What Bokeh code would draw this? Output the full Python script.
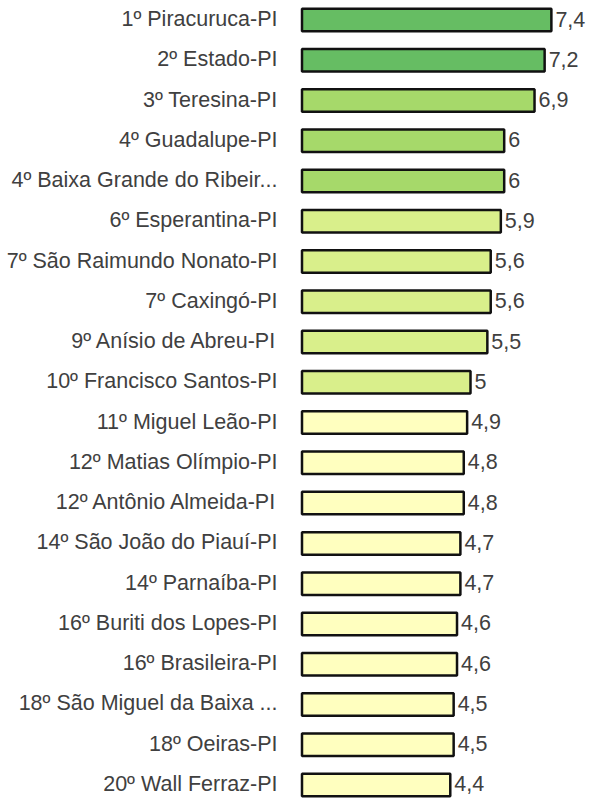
from bokeh.plotting import figure
from bokeh.models import ColumnDataSource, Range1d
from bokeh.core.properties import value
from bokeh.embed import file_html
from bokeh.resources import INLINE

categories = [
    "1º Piracuruca-PI", "2º Estado-PI", "3º Teresina-PI", "4º Guadalupe-PI",
    "4º Baixa Grande do Ribeir...", "6º Esperantina-PI", "7º São Raimundo Nonato-PI",
    "7º Caxingó-PI", "9º Anísio de Abreu-PI", "10º Francisco Santos-PI",
    "11º Miguel Leão-PI", "12º Matias Olímpio-PI", "12º Antônio Almeida-PI",
    "14º São João do Piauí-PI", "14º Parnaíba-PI", "16º Buriti dos Lopes-PI",
    "16º Brasileira-PI", "18º São Miguel da Baixa ...", "18º Oeiras-PI", "20º Wall Ferraz-PI",
]
values = [7.4, 7.2, 6.9, 6, 6, 5.9, 5.6, 5.6, 5.5, 5, 4.9, 4.8, 4.8, 4.7, 4.7, 4.6, 4.6, 4.5, 4.5, 4.4]
value_labels = ["7,4", "7,2", "6,9", "6", "6", "5,9", "5,6", "5,6", "5,5", "5",
                "4,9", "4,8", "4,8", "4,7", "4,7", "4,6", "4,6", "4,5", "4,5", "4,4"]

thresholds = [7, 6, 5]
palette = ["#66BD63", "#A6D96A", "#D9EF8B", "#FFFFBF"]


def color_for(v):
    for t, c in zip(thresholds, palette):
        if v >= t:
            return c
    return palette[-1]


colors = [color_for(v) for v in values]
pos = list(range(len(categories)))

W, H = 589, 798
ppu = 33.7
x0_px = 301.5
x_start = -x0_px / ppu
x_end = x_start + W / ppu
label_x = (277 - x0_px) / ppu
pitch = 40.26
first_c = 19.5
y_top = -first_c / pitch
y_bot = (H - first_c) / pitch

src = ColumnDataSource(dict(y=pos, v=values, lab=value_labels, cat=categories,
                            c=colors, zero=[0] * len(values),
                            lx=[label_x] * len(values)))

p = figure(width=W, height=H, output_backend="svg", toolbar_location=None,
           x_range=Range1d(x_start, x_end), y_range=Range1d(y_bot, y_top),
           min_border=0, outline_line_color=None)
p.axis.visible = False
p.grid.visible = False
p.background_fill_color = "white"
p.border_fill_color = "white"

p.hbar(y="y", left="zero", right="v", height=22.5 / pitch, source=src,
       fill_color="c", line_color="#111111", line_width=2.5)

p.text(x="v", y="y", text="lab", source=src, x_offset=4, y_offset=-1,
       text_align="left", text_baseline="middle",
       text_font=value("Liberation Sans"), text_font_size="21.5px",
       text_color="#404040")

p.text(x="lx", y="y", text="cat", source=src, y_offset=-1,
       text_align="right", text_baseline="middle",
       text_font=value("Liberation Sans"), text_font_size="21.5px",
       text_color="#404040")

open("out.html", "w").write(file_html(p, INLINE))
